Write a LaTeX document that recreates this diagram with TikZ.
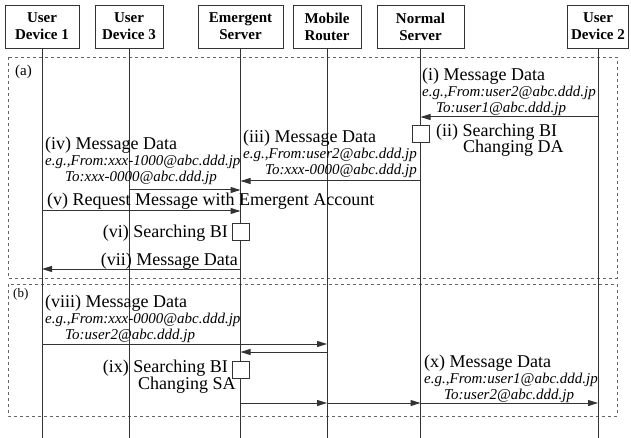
\documentclass[tikz,border=0pt]{standalone}
\usepackage{fontspec}
\setmainfont{Liberation Serif}
\usetikzlibrary{arrows.meta}
\definecolor{ink}{HTML}{333333}
\newcommand{\MsgData}[6]{% name, title position, title, from, to, indent of To line
\node[lbl, anchor=base west] (#1) at #2 {#3};
\node[eg, anchor=base west] (#1-from) at ([yshift=-16pt]#1.base west) {e.g.,From:#4};
\node[eg, anchor=base west] (#1-to) at ([xshift=#6, yshift=-16pt]#1-from.base west) {To:#5};
}
\tikzset{
  actor/.style={draw=ink, line width=0.8pt, align=center, minimum height=43pt, inner sep=0pt,
    font=\fontsize{15}{17}\selectfont\bfseries},
  life/.style={draw=ink, line width=0.8pt},
  msg/.style={draw=ink, line width=1pt, -{Triangle[length=10pt,width=6pt]}},
  lbl/.style={inner sep=0pt, font=\fontsize{18}{18}\selectfont},
  eg/.style={inner sep=0pt, font=\fontsize{15}{15}\selectfont\itshape},
  act/.style={draw=ink, fill=white, line width=0.8pt, minimum size=17pt, inner sep=0pt},
  phase/.style={draw=black!60, dashed, line width=0.6pt},
}

\begin{document}
\begin{tikzpicture}[x=1pt, y=-1pt, line cap=butt]
\useasboundingbox (0,0) rectangle (631,438);
% phases
\draw[phase] (8,57) rectangle (617,278);
\draw[phase] (8,284) rectangle (617,416);
\node[inner sep=0pt, anchor=base west, font=\fontsize{15}{15}\selectfont] (pa) at (15,76) {(a)};
\node[inner sep=0pt, anchor=base west, font=\fontsize{13}{13}\selectfont] (pb) at (13,297) {(b)};
% heads and lifelines
\node[actor, minimum width=74pt] (ud1) at (42,26.5) {User\\Device 1};
\node[actor, minimum width=68pt] (ud3) at (129,26.5) {User\\Device 3};
\node[actor, minimum width=85pt] (es) at (240.5,26.5) {Emergent\\Server};
\node[actor, minimum width=68pt] (mr) at (327,26.5) {Mobile\\Router};
\node[actor, minimum width=87pt] (ns) at (420.5,26.5) {Normal\\Server};
\node[actor, minimum width=61pt] (ud2) at (598,26.5) {User\\Device 2};
\coordinate (bot) at (0,438);
\foreach \a in {ud1,ud3,es,mr,ns,ud2}
  \draw[life] (\a.south) -- (\a |- bot);
% message rows
\coordinate (r1) at (0,117);
\coordinate (r3) at (0,181);
\coordinate (r4) at (0,190);
\coordinate (r5) at (0,211);
\coordinate (r7) at (0,269);
\coordinate (r8) at (0,344);
\coordinate (r8b) at (0,352);
\coordinate (r10) at (0,403);
% (a)
\draw[msg] (ud2 |- r1) -- (ns |- r1);
\MsgData{m1}{(422,81)}{(i) Message Data}{user2@abc.ddd.jp}{user1@abc.ddd.jp}{14pt}
\node[act] (sq2) at (ns |- 0,133.5) {};
\node[lbl, anchor=base west] (m2) at (436,137) {(ii) Searching BI};
\node[lbl, anchor=base west] (m2b) at (463,153) {Changing DA};
\draw[msg] (ns |- r3) -- (es |- r3);
\MsgData{m3}{(243,143)}{(iii) Message Data}{user2@abc.ddd.jp}{xxx-0000@abc.ddd.jp}{22pt}
\draw[msg] (ud3 |- r4) -- (es |- r4);
\MsgData{m4}{(45,150)}{(iv) Message Data}{xxx-1000@abc.ddd.jp}{xxx-0000@abc.ddd.jp}{20pt}
\draw[msg] (ud1 |- r5) -- (es |- r5);
\node[lbl, anchor=base west] (m5) at (47,206) {(v) Request Message with Emergent Account};
\node[act] (sq6) at (es |- 0,231.5) {};
\node[lbl, anchor=base east] (m6) at (228,237) {(vi) Searching BI};
\draw[msg] (es |- r7) -- (ud1 |- r7);
\node[lbl, anchor=base east] (m7) at (238,265) {(vii) Message Data};
% (b)
\draw[msg] (ud1 |- r8) -- (mr |- r8);
\MsgData{m8}{(45,307)}{(viii) Message Data}{xxx-0000@abc.ddd.jp}{user2@abc.ddd.jp}{20pt}
\draw[msg] (mr |- r8b) -- (es |- r8b);
\node[act] (sq9) at (es |- 0,370) {};
\node[lbl, anchor=base east] (m9) at (228,372) {(ix) Searching BI};
\node[lbl, anchor=base west] (m9b) at (138,389) {Changing SA};
\draw[msg] (es |- r10) -- (mr |- r10);
\draw[msg] (mr |- r10) -- (ns |- r10);
\draw[msg] (ns |- r10) -- (ud2 |- r10);
\MsgData{m10}{(424,367)}{(x) Message Data}{user1@abc.ddd.jp}{user2@abc.ddd.jp}{20pt}
\end{tikzpicture}
\end{document}
